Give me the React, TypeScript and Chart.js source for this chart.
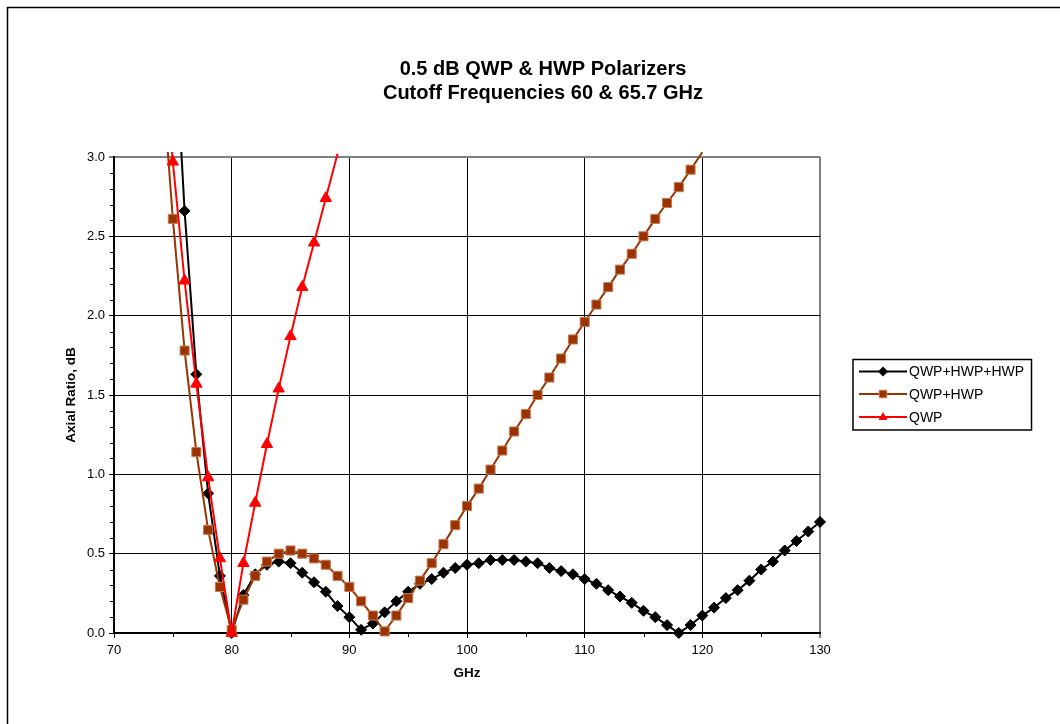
import React, { useEffect, useRef } from 'react';
import { Chart, registerables } from 'chart.js';

Chart.register(...registerables);

const TITLE_LINES = ['0.5 dB QWP & HWP Polarizers', 'Cutoff Frequencies 60 & 65.7 GHz'];
const X_TITLE = 'GHz';
const Y_TITLE = 'Axial Ratio, dB';
const SERIES_LABELS = ['QWP+HWP+HWP', 'QWP+HWP', 'QWP'];

const X_TICKS = [70, 80, 90, 100, 110, 120, 130];
const Y_TICKS = [0, 0.5, 1.0, 1.5, 2.0, 2.5, 3.0];

// QWP+HWP+HWP
const freqA = [
  75, 76, 77, 78, 79, 80, 81, 82, 83, 84, 85, 86, 87, 88, 89, 90, 91, 92, 93, 94,
  95, 96, 97, 98, 99, 100, 101, 102, 103, 104, 105, 106, 107, 108, 109, 110, 111, 112,
  113, 114, 115, 116, 117, 118, 119, 120, 121, 122, 123, 124, 125, 126, 127, 128, 129, 130,
];
const valsA = [
  4.0, 2.66, 1.63, 0.88, 0.36, 0.0, 0.24, 0.37, 0.43, 0.45, 0.44, 0.38, 0.32, 0.26, 0.17, 0.1, 0.02, 0.06, 0.13, 0.2,
  0.26, 0.31, 0.34, 0.38, 0.41, 0.43, 0.44, 0.46, 0.46, 0.46, 0.45, 0.44, 0.41, 0.39, 0.37, 0.34, 0.31, 0.27,
  0.23, 0.19, 0.14, 0.1, 0.05, 0.0, 0.05, 0.11, 0.16, 0.22, 0.27, 0.33, 0.4, 0.45, 0.52, 0.58, 0.64, 0.7,
];

// QWP+HWP
const freqB = [
  74, 75, 76, 77, 78, 79, 80, 81, 82, 83, 84, 85, 86, 87, 88, 89, 90, 91, 92, 93, 94,
  95, 96, 97, 98, 99, 100, 101, 102, 103, 104, 105, 106, 107, 108, 109, 110, 111, 112,
  113, 114, 115, 116, 117, 118, 119, 120,
];
const valsB = [
  3.6, 2.61, 1.78, 1.14, 0.65, 0.29, 0.02, 0.21, 0.36, 0.45, 0.5, 0.52, 0.5, 0.47, 0.43, 0.36, 0.29, 0.2, 0.11, 0.01, 0.11,
  0.22, 0.33, 0.44, 0.56, 0.68, 0.8, 0.91, 1.03, 1.15, 1.27, 1.38, 1.5, 1.61, 1.73, 1.85, 1.96, 2.07, 2.18,
  2.29, 2.39, 2.5, 2.61, 2.71, 2.81, 2.92, 3.03,
];

// QWP
const freqC = [74, 75, 76, 77, 78, 79, 80, 81, 82, 83, 84, 85, 86, 87, 88, 89];
const valsC = [3.9, 2.97, 2.22, 1.57, 0.98, 0.47, 0.0, 0.44, 0.82, 1.19, 1.54, 1.87, 2.18, 2.46, 2.74, 3.02];

const FONT = "'Liberation Sans', Arial, Helvetica, sans-serif";
const COLORS = ['#000000', '#993300', '#FF0000'];

function drawMarker(ctx: CanvasRenderingContext2D, kind: number, x: number, y: number, s: number) {
  ctx.save();
  ctx.beginPath();
  if (kind === 0) {
    ctx.moveTo(x - s, y);
    ctx.lineTo(x, y - s);
    ctx.lineTo(x + s, y);
    ctx.lineTo(x, y + s);
    ctx.closePath();
    ctx.fillStyle = '#000';
    ctx.fill();
  } else if (kind === 1) {
    ctx.rect(x - s * 0.75, y - s * 0.75, s * 1.5, s * 1.5);
    ctx.fillStyle = '#993300';
    ctx.fill();
    ctx.strokeStyle = '#C87850';
    ctx.lineWidth = 1;
    ctx.stroke();
  } else {
    ctx.moveTo(x, y - s);
    ctx.lineTo(x + s * 0.9, y + s * 0.6);
    ctx.lineTo(x - s * 0.9, y + s * 0.6);
    ctx.closePath();
    ctx.fillStyle = '#FF0000';
    ctx.fill();
  }
  ctx.restore();
}

const decorPlugin = {
  id: 'decor',
  afterDraw(chart: any) {
    const ctx: CanvasRenderingContext2D = chart.ctx;
    const area = chart.chartArea;
    const xs = chart.scales.x;
    const ys = chart.scales.y;
    ctx.save();

    // outer frame (left and top edges visible)
    ctx.strokeStyle = '#000';
    ctx.lineWidth = 1.5;
    ctx.beginPath();
    ctx.moveTo(7.5, 730);
    ctx.lineTo(7.5, 7.5);
    ctx.lineTo(1070, 7.5);
    ctx.stroke();

    // minor ticks
    ctx.lineWidth = 1;
    ctx.strokeStyle = '#000';
    ctx.beginPath();
    for (let i = 1; i < 30; i++) {
      if (i % 5 === 0) continue;
      const py = Math.round(ys.getPixelForValue(i / 10)) + 0.5;
      ctx.moveTo(area.left - 4, py);
      ctx.lineTo(area.left, py);
    }
    for (let v = 75; v < 130; v += 10) {
      const px = Math.round(xs.getPixelForValue(v)) + 0.5;
      ctx.moveTo(px, area.bottom);
      ctx.lineTo(px, area.bottom + 4);
    }
    ctx.stroke();

    // title
    ctx.fillStyle = '#000';
    ctx.textAlign = 'center';
    ctx.textBaseline = 'middle';
    ctx.font = `bold 20px ${FONT}`;
    ctx.fillText(TITLE_LINES[0], 543, 69);
    ctx.fillText(TITLE_LINES[1], 543, 93);

    // axis titles
    ctx.font = `bold 13.5px ${FONT}`;
    ctx.fillText(X_TITLE, (area.left + area.right) / 2, 673);
    ctx.save();
    ctx.translate(71, (area.top + area.bottom) / 2);
    ctx.rotate(-Math.PI / 2);
    ctx.fillText(Y_TITLE, 0, 0);
    ctx.restore();

    // legend
    const lx = 853, ly = 359.5, lw = 178.5, lh = 70.5;
    ctx.lineWidth = 1.5;
    ctx.strokeStyle = '#000';
    ctx.strokeRect(lx, ly, lw, lh);
    const rows = [371.5, 394, 417];
    ctx.font = `14px ${FONT}`;
    ctx.textAlign = 'left';
    SERIES_LABELS.forEach((lab, i) => {
      const y = rows[i];
      ctx.strokeStyle = COLORS[i];
      ctx.lineWidth = 2;
      ctx.beginPath();
      ctx.moveTo(859, y);
      ctx.lineTo(907, y);
      ctx.stroke();
      drawMarker(ctx, i, 883, y, 5);
      ctx.fillStyle = '#000';
      ctx.fillText(lab, 909, y + 1);
    });
    ctx.restore();
  },
};

export default function App() {
  const ref = useRef<HTMLCanvasElement | null>(null);
  useEffect(() => {
    if (!ref.current) return;
    const hideAbove = (r: number) => (c: any) => (c.raw && c.raw.y > 3.0 ? 0 : r);
    const mk = (f: number[], v: number[]) => f.map((x, i) => ({ x, y: v[i] }));
    const clip = { left: 10, top: 5, right: 10, bottom: 10 };
    const chart = new Chart(ref.current, {
      type: 'line',
      data: {
        datasets: [
          {
            label: SERIES_LABELS[0],
            data: mk(freqA, valsA),
            borderColor: '#000000',
            borderWidth: 2,
            backgroundColor: '#000000',
            pointStyle: 'rectRot',
            pointRadius: hideAbove(5.5),
            pointBackgroundColor: '#000000',
            pointBorderColor: '#000000',
            pointBorderWidth: 1,
            tension: 0,
            clip,
            order: 3,
          },
          {
            label: SERIES_LABELS[1],
            data: mk(freqB, valsB),
            borderColor: '#993300',
            borderWidth: 2,
            backgroundColor: '#993300',
            pointStyle: 'rect',
            pointRadius: hideAbove(6.4),
            pointBackgroundColor: '#993300',
            pointBorderColor: '#C87850',
            pointBorderWidth: 1,
            tension: 0,
            clip,
            order: 2,
          },
          {
            label: SERIES_LABELS[2],
            data: mk(freqC, valsC),
            borderColor: '#FF0000',
            borderWidth: 2,
            backgroundColor: '#FF0000',
            pointStyle: 'triangle',
            pointRadius: hideAbove(6.6),
            pointBackgroundColor: '#FF0000',
            pointBorderColor: '#FF0000',
            pointBorderWidth: 1,
            tension: 0,
            clip,
            order: 1,
          },
        ],
      },
      options: {
        responsive: false,
        animation: false,
        events: [],
        layout: { padding: { left: 0, top: 157, right: 240, bottom: 0 } },
        plugins: { legend: { display: false }, title: { display: false }, tooltip: { enabled: false } },
        scales: {
          x: {
            type: 'linear',
            min: 70,
            max: 130,
            afterBuildTicks: (s: any) => {
              s.ticks = X_TICKS.map((v) => ({ value: v }));
            },
            afterFit: (s: any) => {
              s.height = 91;
            },
            grid: {
              color: (c: any) => (c.tick && c.tick.value === 130 ? '#808080' : '#000000'),
              lineWidth: (c: any) => (c.tick && c.tick.value === 130 ? 2 : 1),
              drawTicks: true,
              tickLength: 5,
              tickColor: '#000000',
              tickWidth: 1,
            },
            border: { display: true, color: '#000000', width: 2 },
            ticks: {
              color: '#000',
              font: { family: FONT, size: 13 },
              padding: 5,
              maxRotation: 0,
              autoSkip: false,
              callback: (v: any) => String(v),
            },
          },
          y: {
            type: 'linear',
            min: 0,
            max: 3,
            afterBuildTicks: (s: any) => {
              s.ticks = Y_TICKS.map((v) => ({ value: v }));
            },
            afterFit: (s: any) => {
              s.width = 114;
            },
            grid: {
              color: (c: any) => (c.tick && c.tick.value === 3 ? '#808080' : '#000000'),
              lineWidth: (c: any) => (c.tick && c.tick.value === 3 ? 2 : 1),
              drawTicks: true,
              tickLength: 5,
              tickColor: '#000000',
              tickWidth: 1,
            },
            border: { display: true, color: '#000000', width: 2 },
            ticks: {
              color: '#000',
              font: { family: FONT, size: 13 },
              padding: 4,
              autoSkip: false,
              callback: (v: any) => Number(v).toFixed(1),
            },
          },
        },
      },
      plugins: [decorPlugin],
    } as any);
    return () => chart.destroy();
  }, []);
  return (
    <div style={{ position: 'absolute', left: 0, top: 0, width: 1060, height: 724, background: '#fff' }}>
      <canvas ref={ref} width={1060} height={724} style={{ display: 'block' }} />
    </div>
  );
}
